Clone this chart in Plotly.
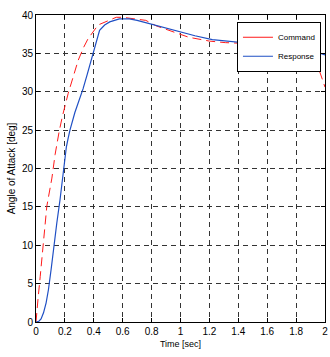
import plotly.graph_objects as go

# Command (red dashed)
cmd_t = [0, 0.005, 0.014, 0.029, 0.052, 0.075, 0.11, 0.132, 0.16, 0.182, 0.223, 0.26,
         0.292, 0.33, 0.36, 0.43, 0.5, 0.555, 0.6, 0.68, 0.76, 0.83, 0.9, 0.966, 1.057,
         1.125, 1.2, 1.31, 1.43, 1.55, 1.7, 1.85, 1.93, 1.96, 2.0]
cmd_y = [0, 1.5, 3.0, 5.9, 10.9, 15.1, 18.75, 21.8, 24.8, 26.75, 29.8, 32.3,
         34.1, 35.8, 36.9, 38.7, 39.3, 39.7, 39.7, 39.5, 39.3, 38.6, 38.1, 37.7, 37.1,
         36.9, 36.6, 36.4, 36.3, 36.2, 36.1, 35.5, 34.5, 32.8, 30.6]

# Response (blue solid)
rsp_t = [0, 0.02, 0.035, 0.052, 0.07, 0.086, 0.105, 0.12, 0.144, 0.166, 0.189, 0.21,
         0.223, 0.235, 0.269, 0.3, 0.326, 0.355, 0.384, 0.41, 0.44, 0.475, 0.51, 0.577,
         0.646, 0.7, 0.78, 0.88, 0.99, 1.1, 1.22, 1.32, 1.43, 1.6, 1.8, 1.97, 2.0]
rsp_y = [0, 0.1, 0.4, 1.2, 2.5, 4.2, 6.9, 9.4, 12.9, 15.9, 19.8, 22.8,
         24.0, 25.0, 27.3, 29.0, 30.4, 32.3, 34.3, 36.3, 38.0, 38.7, 39.1, 39.5,
         39.5, 39.3, 38.9, 38.4, 37.8, 37.3, 36.8, 36.6, 36.4, 36.1, 35.7, 35.0, 34.8]

x_ticks = [0, 0.2, 0.4, 0.6, 0.8, 1, 1.2, 1.4, 1.6, 1.8, 2]
x_labels = ["0", "0.2", "0.4", "0.6", "0.8", "1", "1.2", "1.4", "1.6", "1.8", "2"]
y_ticks = [0, 5, 10, 15, 20, 25, 30, 35, 40]

FONT = "Liberation Sans, Arial, sans-serif"
RED = "#ff1a1a"
BLUE = "#1f4fc4"

fig = go.Figure()
fig.add_trace(go.Scatter(x=cmd_t, y=cmd_y, mode="lines", name="Command", showlegend=False,
                         line=dict(color=RED, width=1, dash="9px,5px")))
fig.add_trace(go.Scatter(x=rsp_t, y=rsp_y, mode="lines", name="Response", showlegend=False,
                         line=dict(color=BLUE, width=1.2)))
# legend entries (solid samples, as in the reference)
fig.add_trace(go.Scatter(x=[None], y=[None], mode="lines", name="Command",
                         line=dict(color=RED, width=1)))
fig.add_trace(go.Scatter(x=[None], y=[None], mode="lines", name="Response",
                         line=dict(color=BLUE, width=1.2)))

axis_common = dict(
    showline=True, linecolor="black", linewidth=1, mirror="ticks",
    ticks="inside", ticklen=4, tickcolor="black",
    showgrid=True, gridcolor="#333333", gridwidth=1, griddash="5px,4px",
    zeroline=False, tickfont=dict(family=FONT, size=10, color="black"),
    ticklabeloverflow="allow",
)

fig.update_xaxes(range=[0, 2], tickvals=x_ticks, ticktext=x_labels,
                 title=dict(text="Time [sec]", font=dict(family=FONT, size=9, color="black"),
                            standoff=4),
                 **axis_common)
fig.update_yaxes(range=[0, 40], tickvals=y_ticks,
                 title=dict(text="Angle of Attack [deg]", font=dict(family=FONT, size=10, color="black"),
                            standoff=4),
                 **axis_common)

fig.update_layout(
    width=330, height=357,
    margin=dict(l=36, r=2, t=15, b=35),
    paper_bgcolor="white", plot_bgcolor="white",
    showlegend=True,
    legend=dict(x=0.986, y=0.978, xanchor="right", yanchor="top",
                bgcolor="white", bordercolor="black", borderwidth=1,
                font=dict(family=FONT, size=8, color="black"),
                itemwidth=30, tracegroupgap=0),
)

fig.write_html("out.html")
